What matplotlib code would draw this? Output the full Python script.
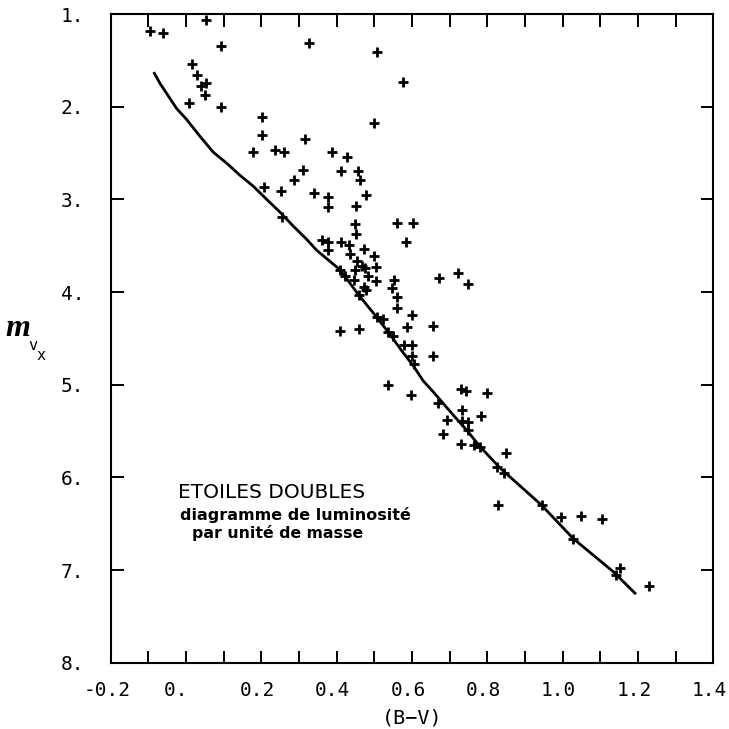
import numpy as np
import matplotlib
matplotlib.use("Agg")
import matplotlib.pyplot as plt
from matplotlib.transforms import ScaledTranslation

# ---- data ----
star_bv = [-0.096, -0.060, 0.053, 0.092, 0.327, 0.506, 0.577, 0.016, 0.030, 0.040,
           0.053, 0.051, 0.007, 0.094, 0.500, 0.203, 0.203, 0.315, 0.177, 0.236,
           0.260, 0.388, 0.427, 0.311, 0.288, 0.412, 0.456, 0.462, 0.207, 0.252,
           0.340, 0.377, 0.377, 0.478, 0.451, 0.255, 0.559, 0.602, 0.449, 0.450,
           0.584, 0.360, 0.378, 0.376, 0.411, 0.434, 0.436, 0.473, 0.499, 0.505,
           0.453, 0.466, 0.475, 0.409, 0.422, 0.449, 0.447, 0.484, 0.505, 0.473,
           0.478, 0.458, 0.553, 0.546, 0.559, 0.559, 0.599, 0.506, 0.524, 0.586,
           0.409, 0.459, 0.537, 0.549, 0.579, 0.599, 0.601, 0.604, 0.537, 0.597,
           0.673, 0.723, 0.750, 0.657, 0.655, 0.729, 0.743, 0.798, 0.670, 0.732,
           0.692, 0.732, 0.750, 0.782, 0.750, 0.682, 0.730, 0.765, 0.781, 0.850,
           0.827, 0.845, 0.829, 0.944, 0.995, 1.049, 1.104, 1.027, 1.152, 1.142,
           1.230]
star_mv = [1.18, 1.20, 1.065, 1.345, 1.31, 1.41, 1.73, 1.54, 1.66, 1.78,
           1.74, 1.87, 1.96, 2.00, 2.18, 2.11, 2.31, 2.35, 2.49, 2.47,
           2.49, 2.49, 2.54, 2.68, 2.79, 2.69, 2.69, 2.79, 2.87, 2.91,
           2.93, 2.98, 3.08, 2.95, 3.07, 3.19, 3.25, 3.25, 3.27, 3.37,
           3.46, 3.44, 3.46, 3.55, 3.46, 3.49, 3.59, 3.54, 3.61, 3.73,
           3.67, 3.72, 3.74, 3.76, 3.83, 3.76, 3.87, 3.83, 3.88, 3.95,
           3.98, 4.03, 3.87, 3.96, 4.05, 4.17, 4.25, 4.27, 4.29, 4.38,
           4.42, 4.40, 4.43, 4.48, 4.57, 4.57, 4.69, 4.78, 5.00, 5.11,
           3.85, 3.80, 3.91, 4.37, 4.69, 5.05, 5.07, 5.09, 5.20, 5.27,
           5.38, 5.39, 5.40, 5.34, 5.49, 5.53, 5.64, 5.65, 5.67, 5.74,
           5.89, 5.95, 6.30, 6.30, 6.43, 6.42, 6.45, 6.67, 6.98, 7.05,
           7.17]

curve_bv = [-0.084, -0.069, -0.051, -0.025, 0.002, 0.037, 0.072, 0.108, 0.143, 0.179,
            0.214, 0.250, 0.285, 0.320, 0.347, 0.409, 0.458, 0.506, 0.542, 0.572,
            0.604, 0.630, 0.657, 0.710, 0.745, 0.781, 0.834, 0.944, 1.028, 1.135,
            1.192]
curve_mv = [1.64, 1.75, 1.86, 2.02, 2.14, 2.32, 2.49, 2.61, 2.74, 2.86,
            3.00, 3.14, 3.29, 3.43, 3.55, 3.76, 4.03, 4.27, 4.46, 4.63,
            4.80, 4.96, 5.08, 5.33, 5.49, 5.67, 5.90, 6.30, 6.66, 7.02,
            7.25]

x_ticks = [-0.2, 0.0, 0.2, 0.4, 0.6, 0.8, 1.0, 1.2, 1.4]
x_labels = ["-0.2", "0.\u00a0", "0.2", "0.4", "0.6", "0.8", "1.0", "1.2", "1.4"]
x_minor = [-0.1, 0.1, 0.3, 0.5, 0.7, 0.9, 1.1, 1.3]
y_ticks = [1, 2, 3, 4, 5, 6, 7, 8]
y_labels = ["1.", "2.", "3.", "4.", "5.", "6.", "7.", "8."]

W = 729
fig = plt.figure(figsize=(7.29, 7.29), dpi=100)
ax = fig.add_axes([110.7 / W, 1 - 662.7 / W, (713.3 - 110.7) / W, (662.7 - 14) / W])

ax.plot(curve_bv, curve_mv, color="black", lw=2.0, solid_joinstyle="round")
ax.plot(star_bv, star_mv, linestyle="none", marker="+", color="black",
        markersize=6.8, markeredgewidth=2.0)

ax.set_xlim(-0.2, 1.4)
ax.set_ylim(8, 1)

ax.set_xticks(x_ticks)
ax.set_xticklabels(x_labels)
ax.set_xticks(x_minor, minor=True)
ax.set_yticks(y_ticks)
ax.set_yticklabels(y_labels)

for s in ax.spines.values():
    s.set_linewidth(1.5)

ax.tick_params(axis="both", which="both", direction="in", length=9, width=1.4,
               top=True, right=True, colors="black")
ax.tick_params(axis="x", which="major", pad=13, labelsize=14)
ax.tick_params(axis="y", which="major", pad=19, labelsize=14)
for lab in ax.get_xticklabels() + ax.get_yticklabels():
    lab.set_family("DejaVu Sans Mono")
for lab in ax.get_xticklabels():
    lab.set_transform(lab.get_transform() + ScaledTranslation(-0.04, 0, fig.dpi_scale_trans))

ax.set_xlabel("(B\u2212V)", family="DejaVu Sans Mono", fontsize=14.5, labelpad=6)

# y label: script m with subscripts v, x
fig.text(18 / W, 1 - 329 / W, "m", family="Liberation Serif", style="italic",
         weight="bold", fontsize=23, ha="center", va="center")
fig.text(33 / W, 1 - 346 / W, "v", family="DejaVu Sans Mono", fontsize=11,
         ha="center", va="center")
fig.text(41 / W, 1 - 355 / W, "x", family="DejaVu Sans Mono", fontsize=11,
         ha="center", va="center")

# annotation
fig.text(178 / W, 1 - 498 / W, "ETOILES DOUBLES", family="DejaVu Sans",
         fontsize=14.5, ha="left", va="baseline")
fig.text(180 / W, 1 - 520 / W, "diagramme de luminosité", family="DejaVu Sans",
         weight="bold", fontsize=11.5, ha="left", va="baseline")
fig.text(192 / W, 1 - 538 / W, "par unité de masse", family="DejaVu Sans",
         weight="bold", fontsize=11.3, ha="left", va="baseline")

fig.savefig("out.png", dpi=100)
